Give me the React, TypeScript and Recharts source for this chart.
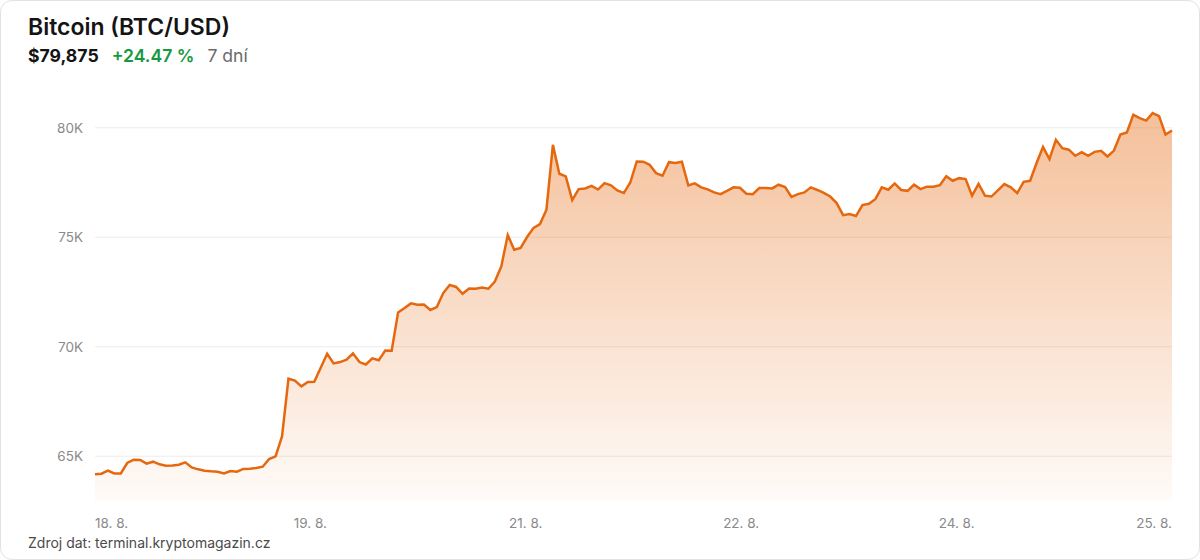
import React from 'react';
import { AreaChart, Area, XAxis, YAxis, CartesianGrid } from 'recharts';

// hourly BTC/USD closes, 18. 8. – 25. 8.
const prices = [
  64172, 64200, 64340, 64215, 64215, 64690, 64840, 64830, 64660, 64750,
  64630, 64570, 64580, 64610, 64720, 64490, 64400, 64340, 64310, 64290,
  64215, 64325, 64290, 64420, 64430, 64460, 64520, 64870, 64990, 65900,
  68540, 68450, 68190, 68390, 68400, 69040, 69680, 69240, 69300, 69410,
  69700, 69300, 69190, 69470, 69380, 69830, 69820, 71570, 71770, 71980,
  71920, 71930, 71680, 71810, 72450, 72820, 72730, 72420, 72660, 72650,
  72710, 72650, 72980, 73670, 75100, 74430, 74510, 75010, 75430, 75600,
  76260, 79220, 77900, 77780, 76700, 77200, 77230, 77350, 77180, 77470,
  77370, 77140, 77020, 77500, 78460, 78450, 78310, 77930, 77810, 78430,
  78390, 78450, 77370, 77460, 77280, 77190, 77050, 76970, 77120, 77280,
  77260, 76990, 76970, 77250, 77250, 77230, 77400, 77290, 76840, 76970,
  77050, 77280, 77160, 77030, 76860, 76560, 76010, 76060, 75970, 76470,
  76530, 76740, 77280, 77170, 77460, 77160, 77120, 77400, 77200, 77310,
  77310, 77380, 77790, 77580, 77700, 77660, 76900, 77440, 76900, 76860,
  77140, 77430, 77280, 77020, 77530, 77580, 78390, 79120, 78570, 79450,
  79070, 79000, 78720, 78890, 78720, 78900, 78950, 78690, 78960, 79690,
  79790, 80590, 80440, 80330, 80670, 80530, 79690, 79875,
];

const dateLabels = ['18. 8.', '19. 8.', '21. 8.', '22. 8.', '24. 8.', '25. 8.'];
const yTicks = [65000, 70000, 75000, 80000];

const data = prices.map((price, i) => ({ i, price }));
const lastIndex = prices.length - 1;
const xTicks = dateLabels.map((_, k) => (lastIndex * k) / (dateLabels.length - 1));

const FONT = 'Inter, "Noto Sans", sans-serif';
const ORANGE = '#e6680e';

function DateTick(props: any) {
  const { x, y, payload } = props;
  const idx = xTicks.findIndex((t) => Math.abs(t - payload.value) < 0.01);
  const anchor = idx === 0 ? 'start' : idx === dateLabels.length - 1 ? 'end' : 'middle';
  return (
    <text x={x} y={y} dy="0.71em" textAnchor={anchor} fill="#8a8a8a" fontSize={13.5} fontFamily={FONT}>
      {dateLabels[idx]}
    </text>
  );
}

export default function App() {
  return (
    <div style={{ position: 'absolute', left: 0, top: 0, width: 1200, height: 560, fontFamily: FONT }}>
      <div
        style={{
          position: 'absolute', inset: 0, boxSizing: 'border-box',
          border: '1px solid #e2e2e2', borderRadius: 12, background: '#fff',
        }}
      />
      <div style={{ position: 'absolute', left: 28, top: 16, fontSize: 23, lineHeight: '23px', fontWeight: 600, color: '#141414' }}>
        Bitcoin (BTC/USD)
      </div>
      <div style={{ position: 'absolute', left: 28, top: 47, fontSize: 17.6, lineHeight: '18px', display: 'flex', gap: 13 }}>
        <span style={{ fontWeight: 700, color: '#141414' }}>$79,875</span>
        <span style={{ fontWeight: 600, color: '#16993f' }}>+24.47 %</span>
        <span style={{ fontWeight: 400, color: '#6b6b6b' }}>7 dní</span>
      </div>

      <div style={{ position: 'absolute', left: 0, top: 0 }}>
        <AreaChart width={1200} height={560} data={data} margin={{ top: 84, right: 28, bottom: 30, left: 35 }}>
          <defs>
            <linearGradient id="btcFill" x1="0" y1="0" x2="0" y2="1">
              <stop offset="0%" stopColor={ORANGE} stopOpacity={0.42} />
              <stop offset="100%" stopColor={ORANGE} stopOpacity={0.03} />
            </linearGradient>
          </defs>
          <CartesianGrid vertical={false} horizontalValues={yTicks} stroke="#ececec" />
          <XAxis
            dataKey="i"
            type="number"
            domain={[0, lastIndex]}
            ticks={xTicks}
            interval={0}
            axisLine={false}
            tickLine={false}
            tickMargin={12}
            height={30}
            tick={<DateTick />}
          />
          <YAxis
            domain={[63000, 82000]}
            allowDataOverflow
            ticks={yTicks}
            width={60}
            axisLine={false}
            tickLine={false}
            tickMargin={6}
            tickFormatter={(v: number) => `${v / 1000}K`}
            tick={{ fontSize: 13.5, fill: '#8a8a8a', fontFamily: FONT }}
          />
          <Area
            type="linear"
            dataKey="price"
            stroke={ORANGE}
            strokeWidth={2.5}
            fill="url(#btcFill)"
            fillOpacity={1}
            isAnimationActive={false}
            dot={false}
            activeDot={false}
          />
        </AreaChart>
      </div>

      <div style={{ position: 'absolute', left: 28, top: 535, fontSize: 14, lineHeight: '16px', color: '#4a4a4a' }}>
        Zdroj dat: terminal.kryptomagazin.cz
      </div>
    </div>
  );
}
